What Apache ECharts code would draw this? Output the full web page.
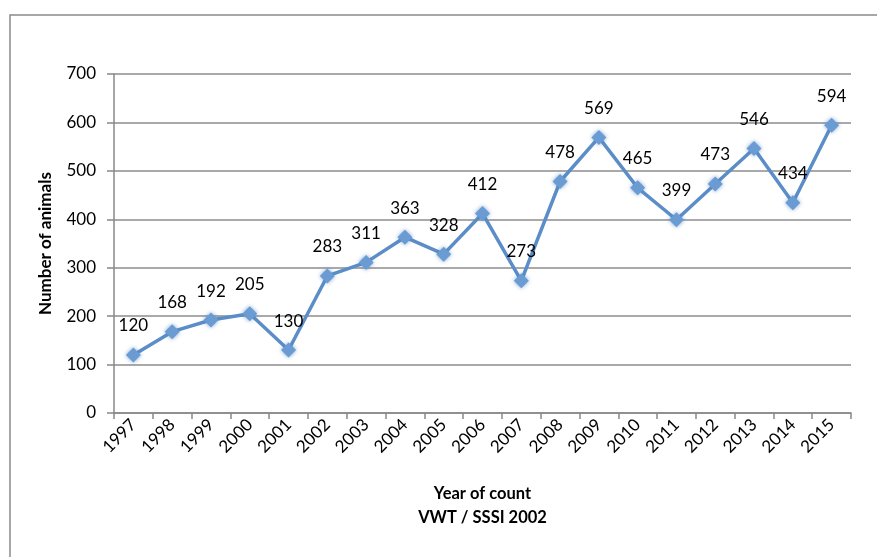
<!DOCTYPE html>
<html><head><meta charset="utf-8">
<script src="https://cdn.jsdelivr.net/npm/echarts@6/dist/echarts.min.js"></script>
<style>html,body{margin:0;padding:0;background:#fff}#c{width:877px;height:557px}</style>
</head><body><div id="c"></div>
<script>
var years = ['1997','1998','1999','2000','2001','2002','2003','2004','2005','2006','2007','2008','2009','2010','2011','2012','2013','2014','2015'];
var animals = [120,168,192,205,130,283,311,363,328,412,273,478,569,465,399,473,546,434,594];
var yTicks = {min:0, max:700, interval:100};
var xTitle = 'Year of count\nVWT / SSSI 2002';
var yTitle = 'Number of animals';

var font = 'Lato, "Open Sans", sans-serif';
var chart = echarts.init(document.getElementById('c'));
chart.setOption({
  animation:false,
  backgroundColor:'#fff',
  graphic:[{type:'rect', shape:{x:10,y:15,width:900,height:600}, style:{fill:'none', stroke:'#8a8a8a', lineWidth:1.5}}],
  grid:{left:114, right:26, top:74, bottom:144},
  xAxis:{type:'category', data:years, boundaryGap:true,
    name:xTitle, nameLocation:'middle', nameGap:69,
    nameTextStyle:{fontFamily:font, fontWeight:'bold', fontSize:16.5, color:'#000', lineHeight:24},
    axisLine:{lineStyle:{color:'#888', width:1.5}},
    axisTick:{show:true, alignWithLabel:false, length:6, lineStyle:{color:'#888', width:1.5}},
    axisLabel:{rotate:45, fontFamily:font, fontSize:17, color:'#000', margin:9, interval:0}
  },
  yAxis:{type:'value', min:yTicks.min, max:yTicks.max, interval:yTicks.interval,
    name:yTitle, nameLocation:'middle', nameGap:60, nameRotate:90,
    nameTextStyle:{fontFamily:font, fontWeight:'bold', fontSize:17, color:'#000'},
    axisLine:{show:true, lineStyle:{color:'#888', width:1.5}},
    axisTick:{show:true, length:7, lineStyle:{color:'#888', width:1.5}},
    splitLine:{lineStyle:{color:'#8c8c8c', width:1.5}},
    axisLabel:{fontFamily:font, fontSize:17, color:'#000', margin:18}
  },
  series:[{type:'line', data:animals, symbol:'diamond', symbolSize:15,
    lineStyle:{color:'#5b8ec8', width:3.5},
    itemStyle:{color:'#6a9bd3', shadowBlur:4, shadowColor:'rgba(80,130,190,0.7)'},
    label:{show:true, position:'top', distance:13, fontFamily:font, fontSize:17, color:'#000'}
  }]
});
</script></body></html>
